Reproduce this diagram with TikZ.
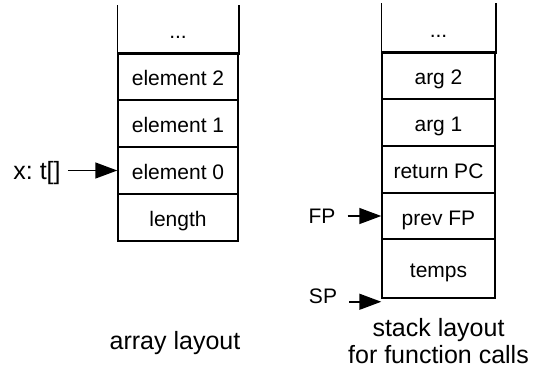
\documentclass[tikz,border=0pt]{standalone}
\usepackage{fontspec}
\setmainfont{Liberation Sans}
\usetikzlibrary{arrows.meta}
\frenchspacing
\tikzset{
  lw/.style={line width=1.5pt},
  ptr/.style={lw, arrows={-Triangle[length=22pt,width=16pt]}}}
\begin{document}
\begin{tikzpicture}[x=1pt,y=-1pt,
  cell/.style={draw, lw, inner sep=0pt, text height=18pt, text depth=0pt,
    font=\fontsize{21}{25}\selectfont},
  lcell/.style={cell, minimum width=120pt, minimum height=47pt},
  rcell/.style={cell, minimum width=113pt},
  lbl/.style={inner sep=0pt, font=\fontsize{21}{25}\selectfont},
  caption/.style={inner sep=0pt, align=center, font=\fontsize{25}{27}\selectfont}]
\useasboundingbox (0,0) rectangle (545,370);

% array layout
\node[lcell, draw=none] (ldots) at (178,29.5) {...};
\node[lcell] (e2) at (178,76.5) {element 2};
\node[lcell] (e1) at (178,123.5) {element 1};
\node[lcell] (e0) at (178,170.5) {element 0};
\node[lcell] (len) at (178,217.5) {length};
\draw[lw] (ldots.north west) -- (ldots.south west) -- (ldots.south east) -- (ldots.north east);

\node[lbl, font=\fontsize{25}{27}\selectfont, anchor=base] (x) at (37,179) {x: t[]};
\draw[ptr] ([xshift=7pt]x.east |- e0.west) -- (e0.west);

\node[caption, anchor=base] (al) at (175,349) {array layout};

% stack layout
\node[rcell, draw=none, minimum height=48pt] (rdots) at (438.5,28) {...};
\node[rcell, minimum height=47pt] (a2) at (438.5,75.5) {arg 2};
\node[rcell, minimum height=47pt] (a1) at (438.5,122.5) {arg 1};
\node[rcell, minimum height=47pt] (rpc) at (438.5,169.5) {return PC};
\node[rcell, minimum height=46pt] (pfp) at (438.5,216) {prev FP};
\node[rcell, minimum height=59pt] (tmp) at (438.5,268.5) {temps};
\draw[lw] (rdots.north west) -- (rdots.south west) -- (rdots.south east) -- (rdots.north east);

\node[lbl, anchor=base] (fp) at (322,223) {FP};
\node[lbl, anchor=base] (sp) at (323,303) {SP};
\coordinate (spt) at ([yshift=-3pt]tmp.south west);
\draw[ptr] ([xshift=12pt]fp.east |- pfp.west) -- (pfp.west);
\draw[ptr] ([xshift=12pt]sp.east |- spt) -- (spt);

\node[caption, anchor=north] (sl) at (438.5,318) {stack layout\\for function calls};
\end{tikzpicture}
\end{document}
